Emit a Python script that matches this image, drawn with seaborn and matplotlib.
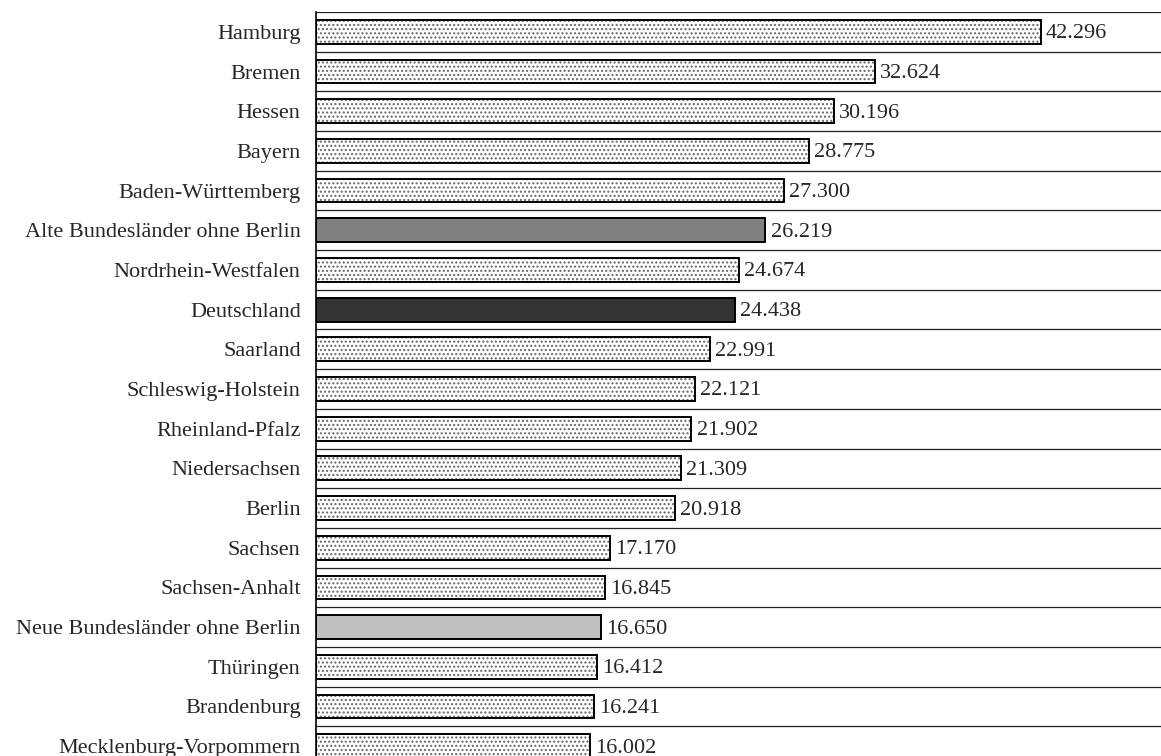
import numpy as np
import pandas as pd
import matplotlib
matplotlib.use("Agg")
import matplotlib.pyplot as plt
import seaborn as sns

laender = ["Hamburg", "Bremen", "Hessen", "Bayern", "Baden-Württemberg",
           "Alte Bundesländer ohne Berlin", "Nordrhein-Westfalen", "Deutschland",
           "Saarland", "Schleswig-Holstein", "Rheinland-Pfalz", "Niedersachsen",
           "Berlin", "Sachsen", "Sachsen-Anhalt", "Neue Bundesländer ohne Berlin",
           "Thüringen", "Brandenburg", "Mecklenburg-Vorpommern"]
werte = [42.296, 32.624, 30.196, 28.775, 27.300, 26.219, 24.674, 24.438,
         22.991, 22.121, 21.902, 21.309, 20.918, 17.170, 16.845, 16.650,
         16.412, 16.241, 16.002]
# Aggregates get solid fills, the Länder get a dotted pattern
solid = {"Alte Bundesländer ohne Berlin": "#808080",
         "Deutschland": "#333333",
         "Neue Bundesländer ohne Berlin": "#c0c0c0"}

df = pd.DataFrame({"land": laender, "wert": werte})
farben = [solid.get(l, "white") for l in laender]

sns.set_style("white")
plt.rcParams["font.family"] = ["Liberation Serif", "DejaVu Serif"]
plt.rcParams["hatch.linewidth"] = 1.0

fig = plt.figure(figsize=(11.61, 7.56), dpi=100)
ax = fig.add_axes([316 / 1161, 1 - 766 / 756, 845 / 1161, 754 / 756])

sns.barplot(data=df, y="land", x="wert", hue="land", palette=farben,
            legend=False, width=0.6, edgecolor="black", linewidth=1.4,
            saturation=1, ax=ax)

for p, l in zip(ax.patches, laender):
    if l not in solid:
        p.set_hatch("....")
        p._hatch_color = (0.4, 0.4, 0.4, 1.0)

for i, v in enumerate(werte):
    ax.text(v + 0.3, i + 0.05, f"{v:.3f}", va="center", ha="left", fontsize=16)

ax.set_xlim(0, 845 / 17.14)
ax.set_ylim(len(laender) - 0.5, -0.5)
ax.set_xlabel("")
ax.set_ylabel("")
ax.set_xticks([])
for s in ["top", "right", "bottom"]:
    ax.spines[s].set_visible(False)
ax.spines["left"].set_color("black")
ax.spines["left"].set_linewidth(1.2)

ax.tick_params(axis="y", which="major", length=0, pad=11, labelsize=16)
ax.set_yticks(np.arange(len(laender) + 1) - 0.5, minor=True)
ax.tick_params(axis="y", which="minor", length=6, width=1.2, color="black")
ax.grid(which="minor", axis="y", color="#222222", linewidth=0.9)
ax.grid(which="major", visible=False)
ax.set_axisbelow(True)

fig.savefig("out.png", dpi=100)
